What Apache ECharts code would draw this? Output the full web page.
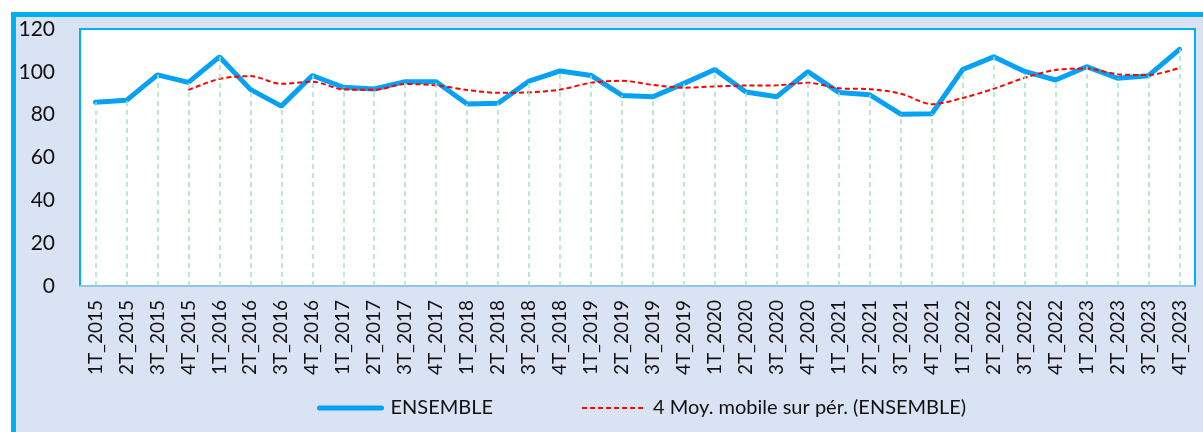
<!DOCTYPE html>
<html>
<head>
<meta charset="utf-8">
<script src="https://cdn.jsdelivr.net/npm/echarts@6/dist/echarts.min.js"></script>
<style>
  body { margin: 0; background: #fff; }
  #frame {
    position: absolute; left: 11px; top: 12px; width: 1300px; height: 500px;
    border-top: 5px solid #00B0F0; border-left: 5px solid #00B0F0;
    background: #DAE3F3;
  }
  #main { position: absolute; left: 0; top: 0; width: 1203px; height: 432px; }
</style>
</head>
<body>
<div id="frame"></div>
<div id="main"></div>
<script>
// trimestres
const quarters = [
  "1T_2015", "2T_2015", "3T_2015", "4T_2015",
  "1T_2016", "2T_2016", "3T_2016", "4T_2016",
  "1T_2017", "2T_2017", "3T_2017", "4T_2017",
  "1T_2018", "2T_2018", "3T_2018", "4T_2018",
  "1T_2019", "2T_2019", "3T_2019", "4T_2019",
  "1T_2020", "2T_2020", "3T_2020", "4T_2020",
  "1T_2021", "2T_2021", "3T_2021", "4T_2021",
  "1T_2022", "2T_2022", "3T_2022", "4T_2022",
  "1T_2023", "2T_2023", "3T_2023", "4T_2023"
];

const ensemble = [
  85.8, 86.7, 98.6, 95.1,
  107.0, 91.8, 84.0, 98.3,
  92.8, 92.0, 95.4, 95.4,
  85.0, 85.3, 95.7, 100.4,
  98.3, 89.0, 88.4, 94.6,
  101.1, 90.6, 88.4, 100.1,
  90.4, 89.3, 80.2, 80.4,
  101.1, 107.0, 100.2, 96.2,
  102.4, 97.0, 98.2, 110.5
];

// moyenne mobile 4 périodes
const moyMobile = [
  null, null, null, 91.5,
  96.7, 98.0, 94.4, 95.4,
  91.8, 91.6, 94.3, 93.7,
  91.5, 90.2, 90.4, 91.7,
  94.9, 95.8, 93.9, 92.6,
  93.2, 93.6, 93.7, 94.9,
  92.3, 91.9, 89.8, 84.9,
  87.8, 92.1, 97.2, 100.9,
  101.5, 98.9, 98.5, 101.9
];

const yTicks = { min: 0, max: 120, interval: 20 };

const chart = echarts.init(document.getElementById("main"));

let dropLines = ensemble.map(function (v, i) {
  return [{ coord: [i, 0] }, { coord: [i, v] }];
});

let option = {
  animation: false,
  textStyle: { fontFamily: "Lato" },
  grid: {
    left: 80, top: 29, right: 8, bottom: 146,
    show: true,
    backgroundColor: "#fff",
    borderColor: "#00B0F0",
    borderWidth: 2
  },
  legend: {
    data: [
      { name: "ENSEMBLE", lineStyle: { width: 5, cap: "round" } },
      { name: "4 Moy. mobile sur pér. (ENSEMBLE)", lineStyle: { width: 2 } }
    ],
    left: 312,
    top: 393,
    itemWidth: 62,
    itemHeight: 14,
    itemGap: 88,
    itemStyle: { opacity: 0 },
    textStyle: { fontSize: 20, color: "#111", fontFamily: "Lato", padding: [0, 0, 0, 4] }
  },
  xAxis: {
    type: "category",
    data: quarters,
    boundaryGap: true,
    axisLine: { lineStyle: { color: "#8CC8EC", width: 2 } },
    axisTick: { show: false },
    axisLabel: {
      interval: 0,
      rotate: 90,
      margin: 14,
      fontSize: 19,
      color: "#111"
    }
  },
  yAxis: {
    type: "value",
    min: yTicks.min,
    max: yTicks.max,
    interval: yTicks.interval,
    axisLine: { show: false },
    axisTick: { show: false },
    splitLine: { show: false },
    axisLabel: { margin: 25, fontSize: 21, color: "#111" }
  },
  series: [
    {
      name: "drop",
      type: "line",
      data: ensemble,
      showSymbol: false,
      silent: true,
      lineStyle: { opacity: 0 },
      z: 1,
      markLine: {
        silent: true,
        symbol: "none",
        label: { show: false },
        lineStyle: { type: [5, 4], color: "#A6E4BE", width: 1.5 },
        data: dropLines
      }
    },
    {
      name: "ENSEMBLE",
      type: "line",
      data: ensemble,
      showSymbol: false,
      symbol: "none",
      z: 3,
      lineStyle: { color: "#05A1F5", width: 5, cap: "round" },
      itemStyle: { color: "#05A1F5" }
    },
    {
      name: "4 Moy. mobile sur pér. (ENSEMBLE)",
      type: "line",
      data: moyMobile,
      showSymbol: false,
      symbol: "none",
      smooth: 0.3,
      z: 4,
      lineStyle: { color: "#FF0000", width: 2, type: [5, 3] },
      itemStyle: { color: "#FF0000" }
    }
  ]
};

chart.setOption(option);
</script>
</body>
</html>
